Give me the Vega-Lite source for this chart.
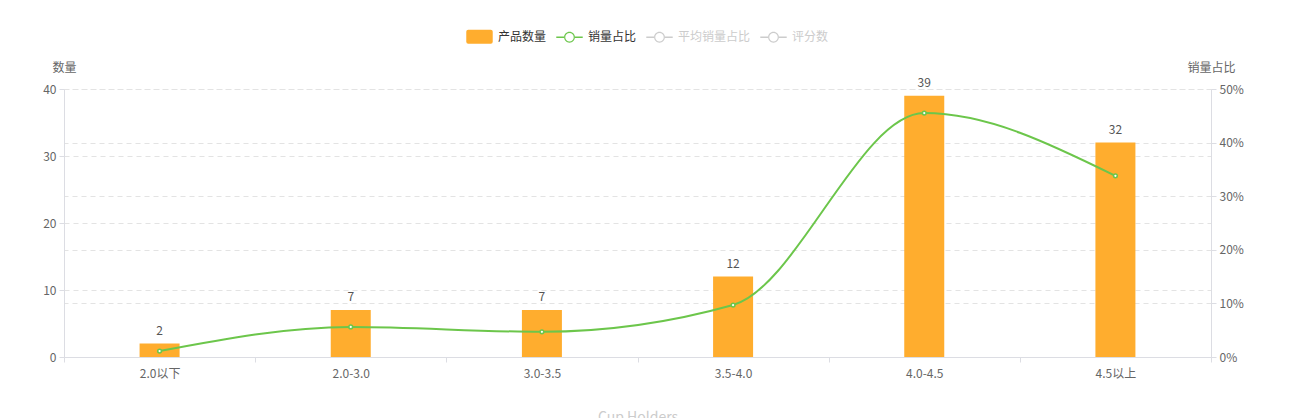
{
  "$schema": "https://vega.github.io/schema/vega-lite/v6.json",
  "width": 1147,
  "height": 268,
  "autosize": {"type": "none"},
  "padding": {"left": 64, "top": 89, "right": 90, "bottom": 61},
  "background": "#ffffff",
  "data": {
    "values": [
      {"range": "2.0以下", "count": 2, "share": 0.011},
      {"range": "2.0-3.0", "count": 7, "share": 0.056},
      {"range": "3.0-3.5", "count": 7, "share": 0.047},
      {"range": "3.5-4.0", "count": 12, "share": 0.097},
      {"range": "4.0-4.5", "count": 39, "share": 0.455},
      {"range": "4.5以上", "count": 32, "share": 0.338}
    ]
  },
  "encoding": {
    "x": {
      "field": "range",
      "type": "nominal",
      "sort": null,
      "scale": {"paddingInner": 0, "paddingOuter": 0},
      "axis": {
        "title": "Cup Holders",
        "titleColor": "#cccccc",
        "titleFontSize": 14,
        "titleFontWeight": "normal",
        "titlePadding": 31,
        "labelAngle": 0,
        "labelColor": "#666666",
        "labelFontSize": 12,
        "labelPadding": 6,
        "domainColor": "#dcdde3",
        "tickColor": "#dcdde3",
        "tickSize": 5,
        "tickBand": "extent",
        "grid": false
      }
    }
  },
  "layer": [
    {
      "encoding": {
        "y": {
          "field": "count",
          "type": "quantitative",
          "scale": {"domain": [0, 40]},
          "axis": {
            "orient": "left",
            "values": [0, 10, 20, 30, 40],
            "title": "数量",
            "titleAngle": 0,
            "titleX": 0,
            "titleY": -22,
            "titleAlign": "center",
            "titleBaseline": "middle",
            "titleFontWeight": "normal",
            "titleFontSize": 12,
            "titleColor": "#666666",
            "labelColor": "#666666",
            "labelFontSize": 12,
            "labelPadding": 3,
            "domainColor": "#dcdde3",
            "tickColor": "#dcdde3",
            "tickSize": 5,
            "grid": true,
            "gridColor": "#e3e3e3",
            "gridDash": [5, 4]
          }
        }
      },
      "layer": [
        {
          "mark": {"type": "bar", "width": 40, "color": "#FFAD2E"},
          "encoding": {
            "color": {
              "datum": "产品数量",
              "type": "nominal",
              "scale": {
                "domain": ["产品数量", "销量占比", "平均销量占比", "评分数"],
                "range": ["#FFAD2E", "#6CC64B", "#cccccc", "#cccccc"]
              },
              "legend": {
                "title": null,
                "orient": "none",
                "direction": "horizontal",
                "legendX": 402,
                "legendY": -66,
                "symbolSize": 700,
                "symbolStrokeWidth": 0,
                "labelFontSize": 12,
                "labelOffset": 5,
                "columnPadding": 9,
                "encode": {
                  "symbols": {
                    "update": {
                      "shape": {"signal": "datum.value === '产品数量' ? 'M-0.85,-0.53 L0.85,-0.53 Q1,-0.53 1,-0.38 L1,0.38 Q1,0.53 0.85,0.53 L-0.85,0.53 Q-1,0.53 -1,0.38 L-1,-0.38 Q-1,-0.53 -0.85,-0.53 Z' : 'M-1,-0.05 L-0.4,-0.05 L-0.4,0.05 L-1,0.05 Z M0.4,-0.05 L1,-0.05 L1,0.05 L0.4,0.05 Z M0.41,0 A0.41,0.41 0 1 0 -0.41,0 A0.41,0.41 0 1 0 0.41,0 Z M0.32,0 A0.32,0.32 0 1 1 -0.32,0 A0.32,0.32 0 1 1 0.32,0 Z'"},
                      "strokeWidth": {"value": 0},
                      "opacity": {"value": 1}
                    }
                  },
                  "labels": {
                    "update": {
                      "fill": {"signal": "datum.value === '产品数量' || datum.value === '销量占比' ? '#333333' : '#cccccc'"}
                    }
                  }
                }
              }
            }
          }
        },
        {
          "mark": {"type": "text", "baseline": "bottom", "dy": -6, "fontSize": 12, "color": "#555555"},
          "encoding": {"text": {"field": "count", "type": "quantitative"}}
        }
      ]
    },
    {
      "encoding": {
        "y": {
          "field": "share",
          "type": "quantitative",
          "scale": {"domain": [0, 0.5]},
          "axis": {
            "orient": "right",
            "values": [0, 0.1, 0.2, 0.3, 0.4, 0.5],
            "format": ".0%",
            "title": "销量占比",
            "titleAngle": 0,
            "titleX": 0,
            "titleY": -22,
            "titleAlign": "center",
            "titleBaseline": "middle",
            "titleFontWeight": "normal",
            "titleFontSize": 12,
            "titleColor": "#666666",
            "labelColor": "#666666",
            "labelFontSize": 12,
            "labelPadding": 3,
            "domainColor": "#dcdde3",
            "tickColor": "#dcdde3",
            "tickSize": 5,
            "grid": true,
            "gridColor": "#e3e3e3",
            "gridDash": [5, 4]
          }
        }
      },
      "layer": [
        {
          "mark": {"type": "line", "interpolate": "monotone", "strokeWidth": 2},
          "encoding": {"color": {"datum": "销量占比", "type": "nominal"}}
        },
        {
          "mark": {"type": "point", "filled": true, "fill": "#ffffff", "stroke": "#6CC64B", "strokeWidth": 1.5, "size": 14, "opacity": 1}
        }
      ]
    }
  ],
  "resolve": {"scale": {"y": "independent"}},
  "config": {
    "font": "Noto Sans CJK SC",
    "view": {"stroke": null}
  }
}
